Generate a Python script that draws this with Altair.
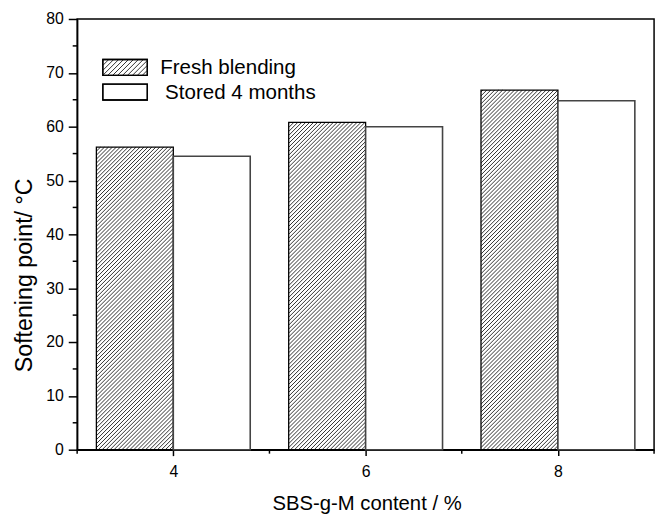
import altair as alt
import pandas as pd

# ---- data ----
contents = [4, 6, 8]                      # SBS-g-M content / %
fresh_values = [56.2, 60.8, 66.8]         # Fresh blending
stored_values = [54.5, 60.0, 64.8]        # Stored 4 months
series_names = ["Fresh blending", "Stored 4 months"]
x_ticks = [4, 6, 8]
x_minor = [3, 5, 7, 9]
y_ticks = [0, 10, 20, 30, 40, 50, 60, 70, 80]
y_minor = [5, 15, 25, 35, 45, 55, 65, 75]

# ---- layout / style ----
W, H = 584, 436
XDOM, YDOM = [3, 9], [0, 80]
KX = W / (XDOM[1] - XDOM[0])   # px per x unit
KY = H / (YDOM[1] - YDOM[0])   # px per y unit
BAR = 0.8                      # bar width in x units
BW = BAR * KX                  # bar width in px
FONT = "Liberation Sans"

bars = pd.DataFrame({
    "content": contents + contents,
    "value": fresh_values + stored_values,
    "series": [series_names[0]] * len(contents) + [series_names[1]] * len(contents),
})

xscale = alt.Scale(domain=XDOM, nice=False, zero=False)
yscale = alt.Scale(domain=YDOM, nice=False, zero=False)
xaxis = alt.Axis(
    values=x_ticks, tickSize=6, labelPadding=8, title="SBS-g-M content / %",
    titleFontSize=20.5, titleFontWeight="normal", titleBaseline="alphabetic",
    titleY=61, titleX=W / 2 + 1, format="d")
yaxis = alt.Axis(
    values=y_ticks, tickSize=9, labelPadding=5, title="Softening point/ °C",
    titleFontSize=23.5, titleFontWeight="normal", titleBaseline="alphabetic",
    titleX=-46, titleY=259, format="d")


def X(field):
    return alt.X(field, scale=xscale, axis=xaxis)


def Y(field):
    return alt.Y(field, scale=yscale, axis=yaxis)


base = alt.Chart(bars)
fresh = base.transform_filter(alt.datum.series == series_names[0]).transform_calculate(
    x0=f"datum.content - {BAR}", x1="datum.content")
stored = base.transform_filter(alt.datum.series == series_names[1]).transform_calculate(
    x0="datum.content", x1=f"datum.content + {BAR}")

fresh_fill = fresh.mark_rect(fill="white", strokeWidth=0).encode(
    x=X("x0:Q"), x2="x1:Q", y=Y("value:Q"), y2=alt.datum(0))

hatch = fresh.transform_calculate(
    hpx=f"datum.value * {KY}",
    ts=f"sequence({-BW:.3f}, datum.value * {KY}, 4)",
).transform_flatten(["ts"]).transform_calculate(
    pxs="max(0, -datum.ts)",
    pxe=f"min({BW:.3f}, datum.hpx - datum.ts)",
).transform_filter("datum.pxe > datum.pxs").transform_calculate(
    hx1=f"datum.x0 + datum.pxs / {KX}",
    hy1=f"(datum.pxs + datum.ts) / {KY}",
    hx2=f"datum.x0 + datum.pxe / {KX}",
    hy2=f"(datum.pxe + datum.ts) / {KY}",
).mark_rule(stroke="#1a1a1a", strokeWidth=0.9).encode(
    x=X("hx1:Q"), y=Y("hy1:Q"), x2="hx2:Q", y2="hy2:Q")

fresh_outline = fresh.mark_rect(fill=None, stroke="black", strokeWidth=1.3).encode(
    x=X("x0:Q"), x2="x1:Q", y=Y("value:Q"), y2=alt.datum(0))

stored_bar = stored.mark_rect(fill="white", stroke="#444444", strokeWidth=1.6).encode(
    x=X("x0:Q"), x2="x1:Q", y=Y("value:Q"), y2=alt.datum(0))

# minor ticks
ymin_ticks = alt.Chart(pd.DataFrame({"v": y_minor})).mark_rule(
    stroke="black", strokeWidth=1.5).encode(
    y=Y("v:Q"), x=alt.value(-4.5), x2=alt.value(0))
xmin_ticks = alt.Chart(pd.DataFrame({"v": x_minor})).mark_rule(
    stroke="black", strokeWidth=1.5).encode(
    x=X("v:Q"), y=alt.value(H), y2=alt.value(H + 4))

# ---- manual legend (pixel positions) ----
LX, LW, LH, LY0, LSTEP = 26, 45, 16, 41, 25
leg = alt.Chart(pd.DataFrame({"series": series_names})).transform_window(
    idx="row_number()").transform_calculate(
    ly=f"{LY0} + (datum.idx - 1) * {LSTEP}",
    ly2=f"{LY0} + (datum.idx - 1) * {LSTEP} + {LH}",
    lty=f"{LY0} + (datum.idx - 1) * {LSTEP} + 15",
    ltx=f"{LX + LW + 13} + (datum.idx - 1) * 5",
)
leg_box = leg.mark_rect(fill="white", stroke="black", strokeWidth=1.3).encode(
    x=alt.value(LX), x2=alt.value(LX + LW),
    y=alt.Y("ly:Q", scale=None), y2="ly2:Q")
leg_hatch = leg.transform_filter("datum.idx == 1").transform_calculate(
    ts=f"sequence({-LW}, {LH}, 5)").transform_flatten(["ts"]).transform_calculate(
    pxs="max(0, -datum.ts)", pxe=f"min({LW}, {LH} - datum.ts)",
).transform_filter("datum.pxe > datum.pxs").transform_calculate(
    hx1=f"{LX} + datum.pxs", hy1="datum.ly2 - (datum.pxs + datum.ts)",
    hx2=f"{LX} + datum.pxe", hy2="datum.ly2 - (datum.pxe + datum.ts)",
).mark_rule(stroke="#1a1a1a", strokeWidth=0.9).encode(
    x=alt.X("hx1:Q", scale=None), y=alt.Y("hy1:Q", scale=None),
    x2="hx2:Q", y2="hy2:Q")
leg_box_line = leg.mark_rect(fill=None, stroke="black", strokeWidth=1.3).encode(
    x=alt.value(LX), x2=alt.value(LX + LW),
    y=alt.Y("ly:Q", scale=None), y2="ly2:Q")
leg_text = leg.mark_text(align="left", baseline="alphabetic", fontSize=20.8,
                         font=FONT, color="black").encode(
    x=alt.X("ltx:Q", scale=None),
    y=alt.Y("lty:Q", scale=None), text="series:N")

chart = alt.layer(
    fresh_fill, hatch, fresh_outline, stored_bar, ymin_ticks, xmin_ticks,
    leg_box, leg_hatch, leg_box_line, leg_text,
).properties(
    width=W, height=H, autosize="none",
    padding={"left": 70, "top": 8, "right": 6, "bottom": 65},
).configure(font=FONT).configure_view(
    stroke="black", strokeWidth=1.5,
).configure_axis(
    grid=False, domainColor="black", domainWidth=1.5, tickColor="black",
    tickWidth=1.5, labelFont=FONT, labelFontSize=16, labelColor="black",
    titleFont=FONT, titleColor="black",
)

chart.save("out.html", embed_options={"renderer": "svg", "actions": False})
